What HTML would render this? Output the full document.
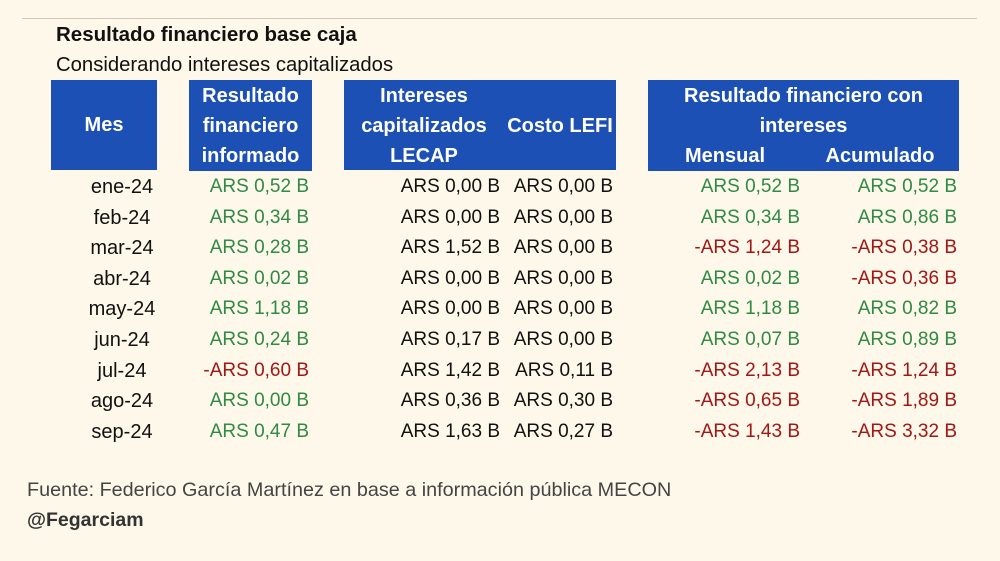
<!DOCTYPE html>
<html><head><meta charset="utf-8"><style>
body{margin:0;width:1000px;height:561px;background:#fdf8e9;font-family:"Liberation Sans",sans-serif;position:relative;overflow:hidden}
.a{position:absolute;white-space:nowrap}
.h{position:absolute;background:#1c50b4;color:#fff;font-weight:bold;font-size:20px;text-align:center;line-height:30px;white-space:nowrap}
.c{position:absolute;font-size:19px;line-height:20px;white-space:nowrap}
.g{color:#2f8a45}.r{color:#a31616}.k{color:#111}
</style></head><body>
<div class="a" style="left:22px;top:18px;width:955px;height:1px;background:#cfcab8"></div>
<div class="a" style="left:56px;top:23px;font-size:20.5px;font-weight:bold;color:#111">Resultado financiero base caja</div>
<div class="a" style="left:56px;top:54px;font-size:20.3px;color:#111">Considerando intereses capitalizados</div>
<div class="h" style="left:51px;top:80px;width:106px;height:90px;line-height:90px">Mes</div>
<div class="h" style="left:189px;top:80px;width:123px;height:90px;padding-top:1px">Resultado<br>financiero<br>informado</div>
<div class="h" style="left:344px;top:80px;width:272px;height:90px"></div>
<div class="h" style="left:344px;top:81px;width:160px;background:none">Intereses<br>capitalizados<br>LECAP</div>
<div class="h" style="left:504px;top:111px;width:112px;background:none">Costo LEFI</div>
<div class="h" style="left:648px;top:80px;width:311px;height:90px;padding-top:1px">Resultado financiero con<br>intereses</div>
<div class="h" style="left:665px;top:141px;width:120px;background:none">Mensual</div>
<div class="h" style="left:815px;top:141px;width:130px;background:none">Acumulado</div>
<div id="rows"></div>
<div class="a" style="left:27px;top:479px;font-size:19.8px;color:#444">Fuente: Federico García Martínez en base a información pública MECON</div>
<div class="a" style="left:27px;top:509px;font-size:19.5px;font-weight:bold;color:#333">@Fegarciam</div>
<script>
var d=[["ene-24","g|ARS 0,52 B","ARS 0,00 B","ARS 0,00 B","g|ARS 0,52 B","g|ARS 0,52 B"],
["feb-24","g|ARS 0,34 B","ARS 0,00 B","ARS 0,00 B","g|ARS 0,34 B","g|ARS 0,86 B"],
["mar-24","g|ARS 0,28 B","ARS 1,52 B","ARS 0,00 B","r|-ARS 1,24 B","r|-ARS 0,38 B"],
["abr-24","g|ARS 0,02 B","ARS 0,00 B","ARS 0,00 B","g|ARS 0,02 B","r|-ARS 0,36 B"],
["may-24","g|ARS 1,18 B","ARS 0,00 B","ARS 0,00 B","g|ARS 1,18 B","g|ARS 0,82 B"],
["jun-24","g|ARS 0,24 B","ARS 0,17 B","ARS 0,00 B","g|ARS 0,07 B","g|ARS 0,89 B"],
["jul-24","r|-ARS 0,60 B","ARS 1,42 B","ARS 0,11 B","r|-ARS 2,13 B","r|-ARS 1,24 B"],
["ago-24","g|ARS 0,00 B","ARS 0,36 B","ARS 0,30 B","r|-ARS 0,65 B","r|-ARS 1,89 B"],
["sep-24","g|ARS 0,47 B","ARS 1,63 B","ARS 0,27 B","r|-ARS 1,43 B","r|-ARS 3,32 B"]];
var R=[155,309,500,613,800,957],h="";
d.forEach(function(r,i){var y=177+i*30.6;r.forEach(function(v,j){var c="k";if(v.indexOf("|")>0){c=v[0];v=v.slice(2)}
var st=j==0?'left:70px;width:104px;text-align:center;font-size:20px;':'right:'+(1000-R[j])+'px;';
h+='<div class="c '+c+'" style="'+st+'top:'+y+'px">'+v+'</div>'});});
document.getElementById("rows").innerHTML=h;
</script>
</body></html>
